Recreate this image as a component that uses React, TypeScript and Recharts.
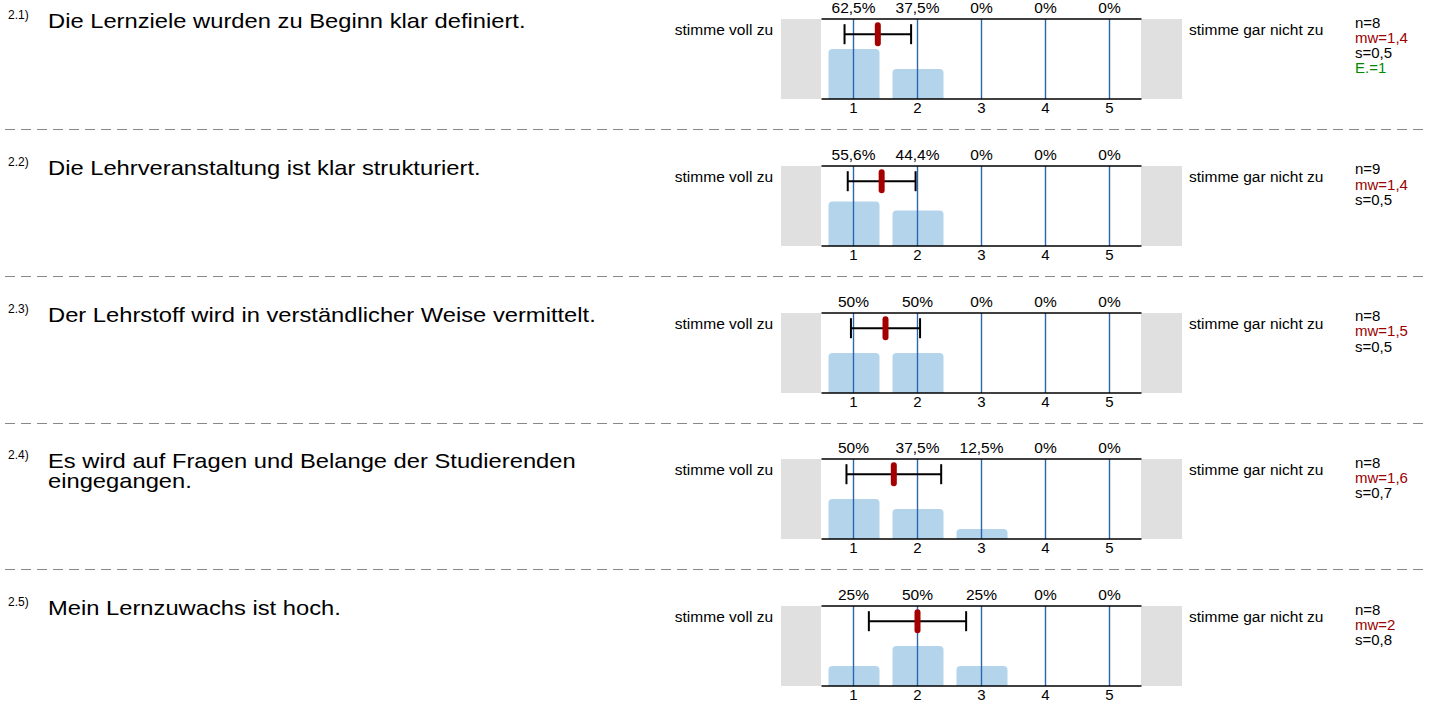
import React from "react";
import { ComposedChart, Bar, XAxis, YAxis, Scatter, ErrorBar, ReferenceLine } from "recharts";

const categories = [1, 2, 3, 4, 5];

const questionNumbers = ["2.1)", "2.2)", "2.3)", "2.4)", "2.5)"];
const questions = [
  "Die Lernziele wurden zu Beginn klar definiert.",
  "Die Lehrveranstaltung ist klar strukturiert.",
  "Der Lehrstoff wird in verständlicher Weise vermittelt.",
  "Es wird auf Fragen und Belange der Studierenden\neingegangen.",
  "Mein Lernzuwachs ist hoch.",
];

// percent of answers per category (1..5)
const shares21 = [62.5, 37.5, 0, 0, 0];
const shares22 = [55.6, 44.4, 0, 0, 0];
const shares23 = [50, 50, 0, 0, 0];
const shares24 = [50, 37.5, 12.5, 0, 0];
const shares25 = [25, 50, 25, 0, 0];
const shares = [shares21, shares22, shares23, shares24, shares25];

const means = [1.38, 1.44, 1.5, 1.63, 2];
const deviations = [0.52, 0.53, 0.54, 0.74, 0.76];

const counts = [8, 9, 8, 8, 8];
const meanLabels = ["1,4", "1,4", "1,5", "1,6", "2"];
const sdLabels = ["0,5", "0,5", "0,5", "0,7", "0,8"];
const abstentions: (number | null)[] = [1, null, null, null, null];

const leftLabel = "stimme voll zu";
const rightLabel = "stimme gar nicht zu";

const ROW_H = 146.75;
const FONT = "'Liberation Sans', Arial, sans-serif";
const MEAN_LEVEL = 81;

const fmt = (v: number) => String(v).replace(".", ",") + "%";

const MeanMarker = (props: any) => {
  const { cx, cy } = props;
  return <rect x={cx - 3} y={cy - 12} width={6} height={24} rx={3} fill="#a50000" />;
};

function RowChart({ values, mean, sd }: { values: number[]; mean: number; sd: number }) {
  const data = categories.map((c, i) => ({ x: c, share: values[i] }));
  const meanData = [{ x: mean, y: MEAN_LEVEL, sd }];
  return (
    <ComposedChart
      width={401}
      height={119}
      data={data}
      margin={{ top: 0, right: 40.5, bottom: 0, left: 40.5 }}
      style={{ fontFamily: FONT }}
    >
      <XAxis
        xAxisId="bottom"
        type="number"
        dataKey="x"
        domain={[0.5, 5.5]}
        ticks={categories}
        height={20}
        tickLine={false}
        tickSize={2}
        tickMargin={1}
        axisLine={{ stroke: "#000", strokeWidth: 1.5 }}
        tick={{ fill: "#000", fontSize: 15 }}
      />
      <XAxis
        xAxisId="top"
        orientation="top"
        type="number"
        dataKey="x"
        domain={[0.5, 5.5]}
        ticks={categories}
        height={19}
        tickLine={false}
        tickSize={4}
        tickMargin={2}
        axisLine={{ stroke: "#000", strokeWidth: 1.5 }}
        tick={{ fill: "#000", fontSize: 15.5 }}
        tickFormatter={(v: number) => fmt(values[v - 1])}
      />
      <XAxis xAxisId="mean" type="number" dataKey="x" domain={[0.5, 5.5]} hide />
      <YAxis type="number" domain={[0, 100]} hide />
      <Bar
        xAxisId="bottom"
        dataKey="share"
        barSize={51}
        fill="#b4d4eb"
        radius={[4, 4, 0, 0]}
        isAnimationActive={false}
      />
      {categories.map((c) => (
        <ReferenceLine key={c} xAxisId="bottom" x={c} stroke="#2a66b0" strokeWidth={1.4} />
      ))}
      <Scatter
        xAxisId="mean"
        data={meanData}
        dataKey="y"
        shape={MeanMarker}
        isAnimationActive={false}
      >
        <ErrorBar dataKey="sd" direction="x" width={10} stroke="#000" strokeWidth={2} isAnimationActive={false} />
      </Scatter>
    </ComposedChart>
  );
}

export default function App() {
  return (
    <div
      style={{
        position: "absolute",
        left: 0,
        top: 0,
        width: 1429,
        height: 706,
        background: "#fff",
        fontFamily: FONT,
        color: "#000",
        overflow: "hidden",
      }}
    >
      <svg width={1429} height={706} style={{ position: "absolute", left: 0, top: 0 }}>
        {[0, 1, 2, 3].map((i) => (
          <line
            key={i}
            x1={5}
            x2={1429}
            y1={Math.round(129 + i * ROW_H) + 0.5}
            y2={Math.round(129 + i * ROW_H) + 0.5}
            stroke="#888"
            strokeDasharray="10 6"
          />
        ))}
      </svg>
      {questions.map((q, i) => {
        const top = i * ROW_H;
        return (
          <React.Fragment key={i}>
            <div style={{ position: "absolute", left: 8, top: top + 9, fontSize: 12, lineHeight: "12px" }}>
              {questionNumbers[i]}
            </div>
            <div
              style={{
                position: "absolute",
                left: 48,
                top: top + 11,
                fontSize: 21,
                lineHeight: "20px",
                whiteSpace: "pre",
                transform: "scaleX(1.13)",
                transformOrigin: "left top",
              }}
            >
              {q}
            </div>
            <div
              style={{
                position: "absolute",
                right: 1429 - 773,
                top: top + 22,
                fontSize: 15.5,
                lineHeight: "16px",
                whiteSpace: "nowrap",
              }}
            >
              {leftLabel}
            </div>
            <div style={{ position: "absolute", left: 781, top: top + 19, width: 40, height: 80, background: "#e0e0e0" }} />
            <div style={{ position: "absolute", left: 1141, top: top + 19, width: 41, height: 80, background: "#e0e0e0" }} />
            <div style={{ position: "absolute", left: 781, top: top }}>
              <RowChart values={shares[i]} mean={means[i]} sd={deviations[i]} />
            </div>
            <div
              style={{
                position: "absolute",
                left: 1189,
                top: top + 22,
                fontSize: 15.5,
                lineHeight: "16px",
                whiteSpace: "nowrap",
              }}
            >
              {rightLabel}
            </div>
            <div style={{ position: "absolute", left: 1355, top: top + 14.5, fontSize: 15, lineHeight: "15.3px" }}>
              <div>n={counts[i]}</div>
              <div style={{ color: "#9a0000" }}>mw={meanLabels[i]}</div>
              <div>s={sdLabels[i]}</div>
              {abstentions[i] !== null && <div style={{ color: "#008a00" }}>E.={abstentions[i]}</div>}
            </div>
          </React.Fragment>
        );
      })}
    </div>
  );
}
